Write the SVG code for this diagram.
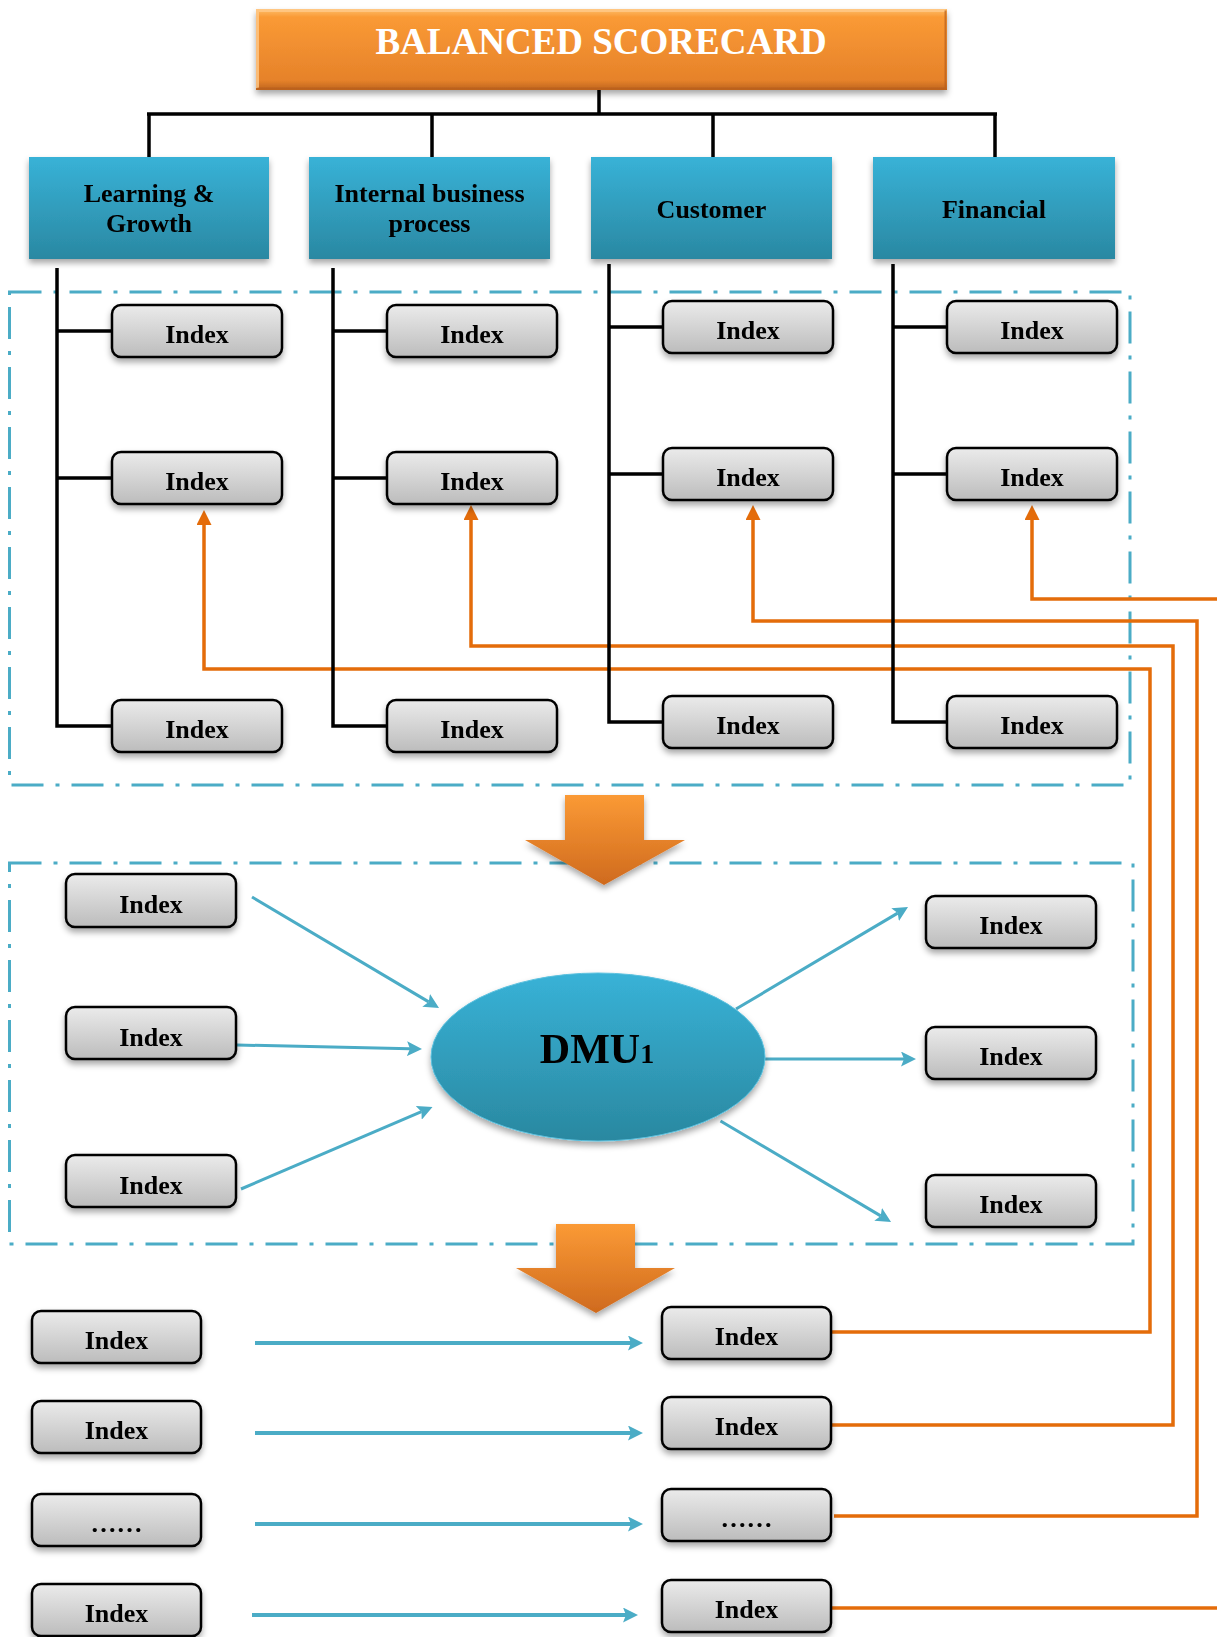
<svg xmlns="http://www.w3.org/2000/svg" width="1217" height="1637" viewBox="0 0 1217 1637">
  <defs>
    <style>
      .lbl { font-family: "Liberation Serif", "Times New Roman", serif; font-weight: bold; fill: #000; text-anchor: middle; }
      .idx rect { fill: url(#gIdx); stroke: #000; stroke-width: 2.5; }
      .idx text { font-size: 26px; }
      .cat rect { fill: url(#gCat); }
      .cat text { font-size: 26px; }
      .frame { fill: none; stroke: #4BACC6; stroke-width: 3; stroke-dasharray: 32 12 4 12; }
      .tree { fill: none; stroke: #000; stroke-width: 3.5; }
      .fb { fill: none; stroke: #E46C0A; stroke-width: 3.5; }
      .flow { fill: none; stroke: #4BACC6; stroke-width: 3; }
      .flow4 { fill: none; stroke: #4BACC6; stroke-width: 4; }
    </style>
    <linearGradient id="gTitle" x1="0" y1="0" x2="0" y2="1">
      <stop offset="0" stop-color="#FDBE6A"/>
      <stop offset="0.1" stop-color="#FA9A35"/>
      <stop offset="0.88" stop-color="#E6822A"/>
      <stop offset="1" stop-color="#BE641E"/>
    </linearGradient>
    <linearGradient id="gCat" x1="0" y1="0" x2="0" y2="1">
      <stop offset="0" stop-color="#38B2D7"/>
      <stop offset="1" stop-color="#2A88A2"/>
    </linearGradient>
    <linearGradient id="gIdx" x1="0" y1="0" x2="0" y2="1">
      <stop offset="0" stop-color="#EBEBEB"/>
      <stop offset="1" stop-color="#BCBCBC"/>
    </linearGradient>
    <linearGradient id="gDmu" x1="0" y1="0" x2="0" y2="1">
      <stop offset="0" stop-color="#38B2D7"/>
      <stop offset="1" stop-color="#2A88A0"/>
    </linearGradient>
    <linearGradient id="gBig" x1="0" y1="0" x2="0" y2="1">
      <stop offset="0" stop-color="#FB9A35"/>
      <stop offset="1" stop-color="#CF6A1E"/>
    </linearGradient>
    <filter id="shadow" x="-10%" y="-20%" width="120%" height="150%">
      <feDropShadow dx="0" dy="4" stdDeviation="3" flood-color="#000" flood-opacity="0.35"/>
    </filter>
    <marker id="arrO" markerUnits="userSpaceOnUse" markerWidth="15" markerHeight="15" refX="3" refY="7.5" orient="auto">
      <path d="M0,0 L15,7.5 L0,15 z" fill="#E46C0A"/>
    </marker>
    <marker id="arrB" markerUnits="userSpaceOnUse" markerWidth="15" markerHeight="15" refX="3" refY="7.5" orient="auto">
      <path d="M0,0 L15,7.5 L0,15 L3,7.5 z" fill="#4BACC6"/>
    </marker>
  </defs>

  <rect width="1217" height="1637" fill="#fff"/>

  <!-- dash-dot frames around the index layer and the DMU layer -->
  <rect class="frame" x="9.5" y="292" width="1120.5" height="493"/>
  <rect class="frame" x="9.5" y="863" width="1123.5" height="381"/>

  <!-- connectors -->
  <g id="connectors">
    <!-- scorecard bus -->
    <path class="tree" d="M599 90 V114 M147 114 H997 M149 114 V158 M432 114 V158 M713 114 V158 M995 114 V158"/>
    <!-- feedback lines from results back to the perspective indexes -->
    <path class="fb" d="M831 1332 H1150 V669 H204 V522" marker-end="url(#arrO)"/>
    <path class="fb" d="M831 1425 H1173 V646 H471 V517" marker-end="url(#arrO)"/>
    <path class="fb" d="M834 1516 H1197 V621 H753 V517" marker-end="url(#arrO)"/>
    <path class="fb" d="M1217 599 H1032 V517" marker-end="url(#arrO)"/>
    <path class="fb" d="M831 1608 H1217"/>
    <!-- perspective trees -->
    <path class="tree" d="M57 268 V726 H112 M57 331 H112 M57 478 H112"/>
    <path class="tree" d="M333 268 V726 H387 M333 331 H387 M333 478 H387"/>
    <path class="tree" d="M609 264 V722 H663 M609 327 H663 M609 474 H663"/>
    <path class="tree" d="M893 264 V722 H947 M893 327 H947 M893 474 H947"/>
    <!-- inputs and outputs of the DMU -->
    <path class="flow" d="M252 897 L428.7 1001.9" marker-end="url(#arrB)"/>
    <path class="flow" d="M237 1045 L410 1048.7" marker-end="url(#arrB)"/>
    <path class="flow" d="M241 1189 L421.5 1111.7" marker-end="url(#arrB)"/>
    <path class="flow" d="M736 1009 L897.7 913.1" marker-end="url(#arrB)"/>
    <path class="flow" d="M749 1059 L904 1059" marker-end="url(#arrB)"/>
    <path class="flow" d="M720.5 1121 L880.7 1215.9" marker-end="url(#arrB)"/>
    <!-- result mapping -->
    <path class="flow4" d="M255 1343 H631" marker-end="url(#arrB)"/>
    <path class="flow4" d="M255 1433 H631" marker-end="url(#arrB)"/>
    <path class="flow4" d="M255 1524 H631" marker-end="url(#arrB)"/>
    <path class="flow4" d="M252 1615 H626" marker-end="url(#arrB)"/>
  </g>

  <!-- title, with a light bevel on the top and left edges -->
  <g id="title">
    <rect x="256" y="9" width="691" height="81" fill="url(#gTitle)" filter="url(#shadow)"/>
    <path d="M257.5 88 V10.5 H945.5" fill="none" stroke="#FFC98A" stroke-width="3" opacity="0.8"/>
    <path d="M945.5 10.5 V88.5 H257.5" fill="none" stroke="#B85E1B" stroke-width="2" opacity="0.7"/>
    <text class="lbl" x="601" y="54" font-size="37" style="fill:#fff">BALANCED SCORECARD</text>
  </g>

  <!-- perspectives -->
  <g id="cat-learning" class="cat" filter="url(#shadow)">
    <rect x="29" y="157" width="240" height="102"/>
    <text class="lbl" x="149" y="202">Learning &amp;</text>
    <text class="lbl" x="149" y="232">Growth</text>
  </g>
  <g id="cat-internal" class="cat" filter="url(#shadow)">
    <rect x="309" y="157" width="241" height="102"/>
    <text class="lbl" x="429.5" y="202">Internal business</text>
    <text class="lbl" x="429.5" y="232">process</text>
  </g>
  <g id="cat-customer" class="cat" filter="url(#shadow)">
    <rect x="591" y="157" width="241" height="102"/>
    <text class="lbl" x="711.5" y="218">Customer</text>
  </g>
  <g id="cat-financial" class="cat" filter="url(#shadow)">
    <rect x="873" y="157" width="242" height="102"/>
    <text class="lbl" x="994" y="218">Financial</text>
  </g>

  <!-- perspective indexes -->
  <g id="idx-l1" class="idx" filter="url(#shadow)"><rect x="112" y="305" width="170" height="52" rx="9"/><text class="lbl" x="197" y="343">Index</text></g>
  <g id="idx-l2" class="idx" filter="url(#shadow)"><rect x="112" y="452" width="170" height="52" rx="9"/><text class="lbl" x="197" y="490">Index</text></g>
  <g id="idx-l3" class="idx" filter="url(#shadow)"><rect x="112" y="700" width="170" height="52" rx="9"/><text class="lbl" x="197" y="738">Index</text></g>
  <g id="idx-i1" class="idx" filter="url(#shadow)"><rect x="387" y="305" width="170" height="52" rx="9"/><text class="lbl" x="472" y="343">Index</text></g>
  <g id="idx-i2" class="idx" filter="url(#shadow)"><rect x="387" y="452" width="170" height="52" rx="9"/><text class="lbl" x="472" y="490">Index</text></g>
  <g id="idx-i3" class="idx" filter="url(#shadow)"><rect x="387" y="700" width="170" height="52" rx="9"/><text class="lbl" x="472" y="738">Index</text></g>
  <g id="idx-c1" class="idx" filter="url(#shadow)"><rect x="663" y="301" width="170" height="52" rx="9"/><text class="lbl" x="748" y="339">Index</text></g>
  <g id="idx-c2" class="idx" filter="url(#shadow)"><rect x="663" y="448" width="170" height="52" rx="9"/><text class="lbl" x="748" y="486">Index</text></g>
  <g id="idx-c3" class="idx" filter="url(#shadow)"><rect x="663" y="696" width="170" height="52" rx="9"/><text class="lbl" x="748" y="734">Index</text></g>
  <g id="idx-f1" class="idx" filter="url(#shadow)"><rect x="947" y="301" width="170" height="52" rx="9"/><text class="lbl" x="1032" y="339">Index</text></g>
  <g id="idx-f2" class="idx" filter="url(#shadow)"><rect x="947" y="448" width="170" height="52" rx="9"/><text class="lbl" x="1032" y="486">Index</text></g>
  <g id="idx-f3" class="idx" filter="url(#shadow)"><rect x="947" y="696" width="170" height="52" rx="9"/><text class="lbl" x="1032" y="734">Index</text></g>

  <!-- big down arrows -->
  <polygon id="step1" points="565,795 644,795 644,840 685,840 604,885 525,840 565,840" fill="url(#gBig)" filter="url(#shadow)"/>
  <polygon id="step2" points="556,1224 635,1224 635,1268 675,1268 596,1313 516,1268 556,1268" fill="url(#gBig)" filter="url(#shadow)"/>

  <!-- DMU layer -->
  <g id="dmu" filter="url(#shadow)">
    <ellipse cx="598" cy="1057" rx="167" ry="84" fill="url(#gDmu)" stroke="#5BC0DE" stroke-width="1"/>
    <text class="lbl" x="597" y="1063" font-size="42">DMU<tspan font-size="28">1</tspan></text>
  </g>
  <g id="in1" class="idx" filter="url(#shadow)"><rect x="66" y="874" width="170" height="53" rx="9"/><text class="lbl" x="151" y="913">Index</text></g>
  <g id="in2" class="idx" filter="url(#shadow)"><rect x="66" y="1007" width="170" height="52" rx="9"/><text class="lbl" x="151" y="1046">Index</text></g>
  <g id="in3" class="idx" filter="url(#shadow)"><rect x="66" y="1155" width="170" height="52" rx="9"/><text class="lbl" x="151" y="1194">Index</text></g>
  <g id="out1" class="idx" filter="url(#shadow)"><rect x="926" y="896" width="170" height="52" rx="9"/><text class="lbl" x="1011" y="934">Index</text></g>
  <g id="out2" class="idx" filter="url(#shadow)"><rect x="926" y="1027" width="170" height="52" rx="9"/><text class="lbl" x="1011" y="1065">Index</text></g>
  <g id="out3" class="idx" filter="url(#shadow)"><rect x="926" y="1175" width="170" height="52" rx="9"/><text class="lbl" x="1011" y="1213">Index</text></g>

  <!-- result layer -->
  <g id="r-l1" class="idx" filter="url(#shadow)"><rect x="32" y="1311" width="169" height="52" rx="9"/><text class="lbl" x="116.5" y="1349">Index</text></g>
  <g id="r-l2" class="idx" filter="url(#shadow)"><rect x="32" y="1401" width="169" height="52" rx="9"/><text class="lbl" x="116.5" y="1439">Index</text></g>
  <g id="r-l3" class="idx" filter="url(#shadow)"><rect x="32" y="1494" width="169" height="52" rx="9"/><text class="lbl" x="116.5" y="1532">……</text></g>
  <g id="r-l4" class="idx" filter="url(#shadow)"><rect x="32" y="1584" width="169" height="52" rx="9"/><text class="lbl" x="116.5" y="1622">Index</text></g>
  <g id="r-r1" class="idx" filter="url(#shadow)"><rect x="662" y="1307" width="169" height="52" rx="9"/><text class="lbl" x="746.5" y="1345">Index</text></g>
  <g id="r-r2" class="idx" filter="url(#shadow)"><rect x="662" y="1397" width="169" height="52" rx="9"/><text class="lbl" x="746.5" y="1435">Index</text></g>
  <g id="r-r3" class="idx" filter="url(#shadow)"><rect x="662" y="1489" width="169" height="52" rx="9"/><text class="lbl" x="746.5" y="1527">……</text></g>
  <g id="r-r4" class="idx" filter="url(#shadow)"><rect x="662" y="1580" width="169" height="52" rx="9"/><text class="lbl" x="746.5" y="1618">Index</text></g>
</svg>
